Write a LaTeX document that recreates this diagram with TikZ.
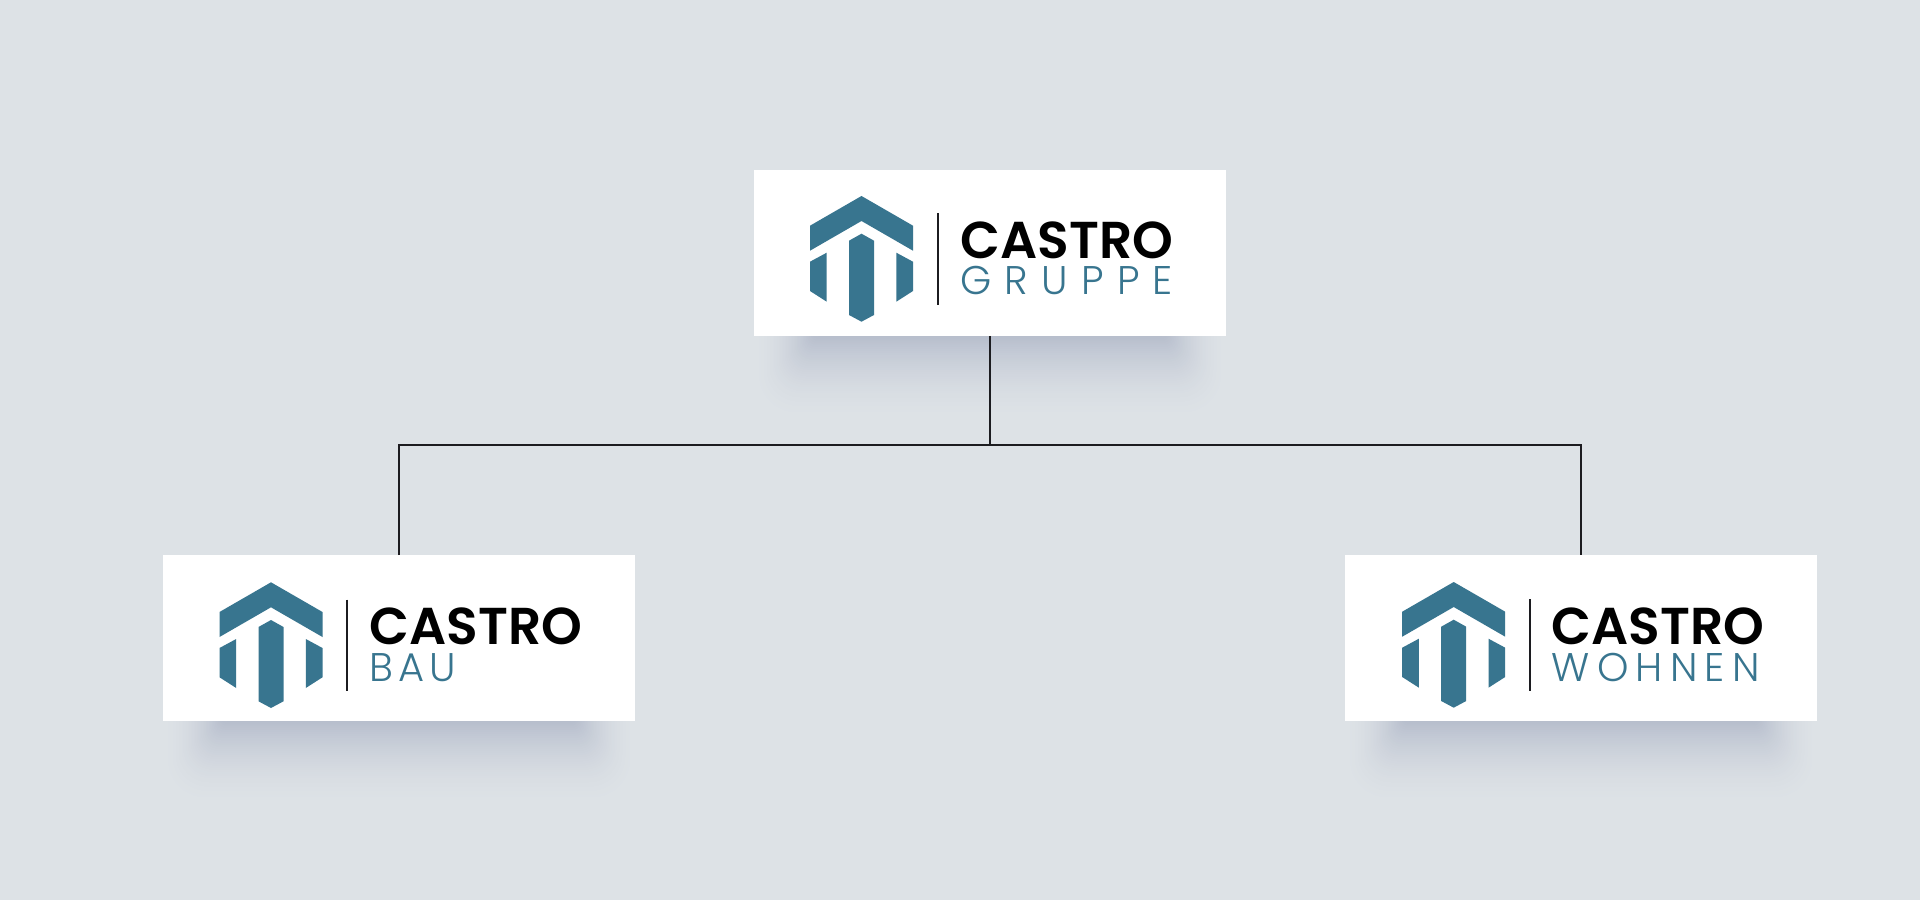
\documentclass[tikz,border=0pt]{standalone}
\usepackage{fontspec}
\newfontfamily\titlefont{Poppins SemiBold}
\newfontfamily\subfont{Poppins Light}
\definecolor{cDDE2E6}{RGB}{221,226,230}
\definecolor{c38758F}{RGB}{56,117,143}
\definecolor{cB6BDCC}{RGB}{182,189,204}
\definecolor{c1C1C20}{RGB}{28,28,32}
\tikzset{
  logobox/.style={fill=white,minimum width=377.6pt,minimum height=132.8pt},
  connector/.style={draw=c1C1C20,line width=2.200pt},
  logotitle/.style={anchor=base west,font=\titlefont\fontsize{41.5}{41.5}\selectfont,text=black},
  logosub/.style={anchor=base west,font=\subfont\fontsize{32}{32}\selectfont,text=c38758F},
  pics/castroshadow/.style={code={
    \begin{scope}[yscale=-1]
    \foreach \i in {0,...,39} {
      \pgfmathsetmacro\shade{100*((\i+1)/40)^1.8}
      \path[fill=cB6BDCC!\shade!cDDE2E6,rounded corners=(39-\i)*0.7pt+4pt]
        (-235+1.5*\i,-38) rectangle (235-1.5*\i,82-2.1*\i);
    }
    \end{scope}
  }},
  pics/castrologo/.style n args={3}{code={
    \begin{scope}[yscale=-1]
    \path[fill=c38758F] (0,0) -- (51.5,29.7) -- (51.5,54.7) -- (0,25) --
      (-51.5,54.7) -- (-51.5,29.7) -- cycle;
    \path[fill=c38758F] (0,37.7) -- (12.5,44.7) -- (12.5,119) -- (0,125.7) --
      (-12.5,119) -- (-12.5,44.7) -- cycle;
    \path[fill=c38758F] (-51.5,65.7) -- (-34.8,56.7) -- (-34.8,105.7) --
      (-51.5,95) -- cycle;
    \path[fill=c38758F] (34.8,56.7) -- (51.5,65.7) -- (51.5,95) --
      (34.8,105.7) -- cycle;
    \path[draw=c1C1C20,line width=1.800pt] (76.2,17.3) -- (76.2,108.7);
    \node[logotitle] (title) at (#3,62.6) {CASTRO};
    \node[logosub] (sub) at (#3,99) {\addfontfeature{LetterSpace=#2}#1};
    \end{scope}
  }}
}

\begin{document}
\begin{tikzpicture}[y=0.80pt,x=0.80pt,yscale=-1, inner sep=0pt, outer sep=0pt]
  \useasboundingbox[fill=cDDE2E6] (0,0) rectangle (1920,900);

  \pic at (990,336) {castroshadow};
  \pic at (399,721) {castroshadow};
  \pic at (1581,721) {castroshadow};

  \node[logobox] (gruppe) at (990,253) {};
  \node[logobox] (bau) at (399,638) {};
  \node[logobox] (wohnen) at (1581,638) {};
  \coordinate (junction) at (990,445);

  \draw[connector] (gruppe.south) -- (junction);
  \draw[connector] (bau.north) |- (wohnen.north |- junction) -- (wohnen.north);

  \pic (gruppelogo) at (861.5,196) {castrologo={GRUPPE}{33}{99}};
  \pic (baulogo) at (271,582.3) {castrologo={BAU}{12}{98.5}};
  \pic (wohnenlogo) at (1453.7,582) {castrologo={WOHNEN}{18}{98}};
\end{tikzpicture}
\end{document}
